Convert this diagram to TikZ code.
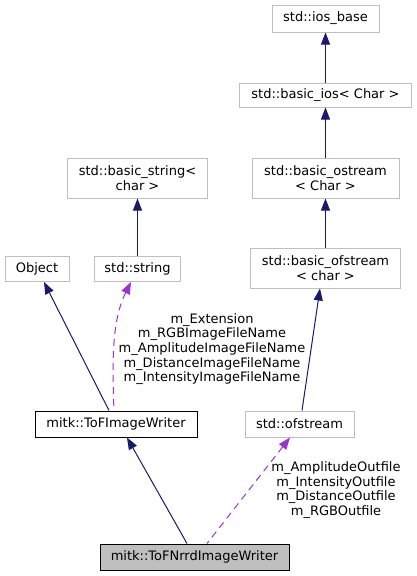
\documentclass[tikz,border=0pt]{standalone}
\usepackage{fontspec}
\setmainfont{DejaVu Sans}
\usetikzlibrary{arrows.meta}
\definecolor{navyline}{HTML}{191970}
\definecolor{purpleline}{HTML}{9A32CD}
\definecolor{graybox}{HTML}{BFBFBF}
\begin{document}
\begin{tikzpicture}[x=1pt, y=-1pt,
    font=\fontsize{13}{14.7}\selectfont,
    cls/.style={draw=graybox, line width=1pt, inner sep=0pt, align=center},
    cur/.style={draw=black, line width=1pt, inner sep=0pt, align=center},
    inh/.style={navyline, line width=1pt, arrows={Triangle[length=12pt, width=9pt]-}},
    usage/.style={purpleline, line width=1pt, dash pattern=on 7pt off 5pt, arrows={Triangle[length=12pt, width=9pt]-}}]
      \useasboundingbox (0, 0) rectangle (416, 576);

      \node[cls, minimum width=107pt, minimum height=27pt] (iosbase) at (325.5, 18.5) {std::ios\_base};
      \node[cls, minimum width=172pt, minimum height=24pt] (basicios) at (325.5, 95) {std::basic\_ios< Char >};
      \node[cls, minimum width=147pt, minimum height=40pt] (basicostream) at (325.5, 178) {std::basic\_ostream\\< Char >};
      \node[cls, minimum width=140pt, minimum height=40pt] (basicstring) at (137.5, 178) {std::basic\_string<\\char >};
      \node[cls, minimum width=150pt, minimum height=40pt] (basicofstream) at (325.5, 268) {std::basic\_ofstream\\< char >};
      \node[cls, minimum width=64pt, minimum height=25pt] (object) at (37, 269) {Object};
      \node[cls, minimum width=86pt, minimum height=25pt] (string) at (137.5, 269) {std::string};
      \node[cur, minimum width=162pt, minimum height=26pt] (tofwriter) at (116, 424) {mitk::ToFImageWriter};
      \node[cls, minimum width=109pt, minimum height=26pt] (ofstream) at (299.5, 424) {std::ofstream};
      \node[cur, fill=graybox, minimum width=189pt, minimum height=26pt] (nrrdwriter) at (194.5, 557) {mitk::ToFNrrdImageWriter};

      \draw[inh] (iosbase.south) -- (basicios.north);
      \draw[inh] (basicios.south) -- (basicostream.north);
      \draw[inh] (basicostream.south) -- (basicofstream.north);
      \draw[inh] (basicstring.south) -- (string.north);
      \draw[inh] ([xshift=7pt]object.south) -- ([xshift=-7pt]tofwriter.north);
      \draw[usage] ([xshift=-6.5pt]string.south) .. controls (112, 320) and (112, 360) .. ([xshift=-2pt]tofwriter.north);
      \draw[inh] ([xshift=-5.5pt]basicofstream.south) -- ([xshift=2.5pt]ofstream.north);
      \draw[inh] ([xshift=11pt]tofwriter.south) -- ([xshift=-7.5pt]nrrdwriter.north);
      \draw[usage] ([xshift=-9.5pt]ofstream.south) -- ([xshift=12.5pt]nrrdwriter.north);

      \node[align=center] (stringlabel) at (212, 349) {m\_Extension\\m\_RGBImageFileName\\m\_AmplitudeImageFileName\\m\_DistanceImageFileName\\m\_IntensityImageFileName};
      \node[align=center] (streamlabel) at (336, 490) {m\_AmplitudeOutfile\\m\_IntensityOutfile\\m\_DistanceOutfile\\m\_RGBOutfile};
\end{tikzpicture}
\end{document}
